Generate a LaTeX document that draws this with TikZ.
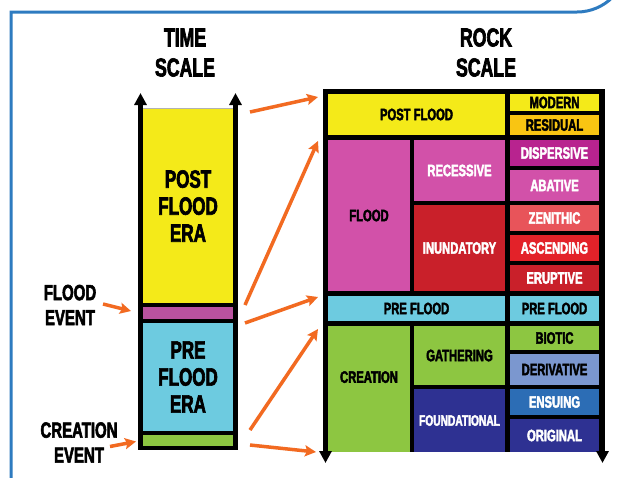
\documentclass[tikz,border=0pt]{standalone}
\usepackage{fontspec}
\usetikzlibrary{arrows.meta}
\newfontfamily\imp{Liberation Sans}[FakeStretch=0.68, BoldFeatures={FakeBold=2.5}]
\definecolor{cyel}{HTML}{F4EA19}
\definecolor{cres}{HTML}{F9C512}
\definecolor{cmag}{HTML}{D251A9}
\definecolor{cdis}{HTML}{B8238F}
\definecolor{czen}{HTML}{E8545A}
\definecolor{casc}{HTML}{E32229}
\definecolor{cred}{HTML}{C9202A}
\definecolor{ccya}{HTML}{6DCBE0}
\definecolor{cgrn}{HTML}{8DC641}
\definecolor{cder}{HTML}{7B97CF}
\definecolor{cens}{HTML}{2C6DB5}
\definecolor{cnav}{HTML}{2E3192}
\definecolor{ctmag}{HTML}{B9529F}
\definecolor{corg}{HTML}{F26A21}
\definecolor{cblu}{HTML}{2E7BC0}
\tikzset{
  cellbox/.style={inner sep=0pt, outer sep=0pt, align=center, font=\imp\bfseries\fontsize{16.5}{17}\selectfont},
  bigtxt/.style={align=center, inner sep=0pt, font=\imp\bfseries\fontsize{26}{30}\selectfont},
  eratxt/.style={align=center, inner sep=0pt, font=\imp\bfseries\fontsize{25}{27}\selectfont},
  evtxt/.style={align=center, inner sep=0pt, font=\imp\bfseries\fontsize{22}{25}\selectfont},
  axis/.style={line width=4.5pt, -{Triangle[length=12pt,width=12pt]}},
  orarrow/.style={corg, line width=3.5pt, -{Stealth[length=11pt,width=11pt,inset=2pt]}},
}
\newcommand\cell[8]{\node[cellbox, fill=#6, text=#7, minimum width={#4-#2}, minimum height={#5-#3}] (#1) at ({(#2+#4)/2},{(#3+#5)/2}) {#8};}
\begin{document}
\begin{tikzpicture}[x=1pt,y=-1pt]
\useasboundingbox (0,0) rectangle (617,477);
\fill[white] (0,0) rectangle (617,477);
% blue frame
\draw[cblu, line width=3pt] (11,480) -- (11,12) -- (577,12) arc[start angle=90, end angle=0, radius=50] -- (627,480);
% titles
\node[bigtxt] (t1) at (185,37.5) {TIME};
\node[bigtxt] (t2) at (185,67.5) {SCALE};
\node[bigtxt] (r1) at (486,37.5) {ROCK};
\node[bigtxt] (r2) at (486,67.5) {SCALE};
% time column
\fill[cyel] (143,108) rectangle (233,305);
\draw[gray!60, line width=0.5pt] (143,108) -- (233,108);
\fill[black] (138,302.5) rectangle (238,449.5);
\cell{tflood}{143}{307}{233}{319}{ctmag}{black}{}
\cell{tpre}{143}{323}{233}{431}{ccya}{black}{}
\cell{tcre}{143}{435}{233}{446}{cgrn}{black}{}
\node[eratxt] (tpost) at (188,206) {POST\\FLOOD\\ERA};
\node[eratxt] (tpretxt) at (188,377) {PRE\\FLOOD\\ERA};
\coordinate (tl0) at (140.5,449.5);
\coordinate (tl1) at (140.5,93);
\coordinate (tr0) at (235.5,449.5);
\coordinate (tr1) at (235.5,93);
\draw[axis] (tl0) -- (tl1);
\draw[axis] (tr0) -- (tr1);
% events
\node[evtxt] (fev) at (70,305) {FLOOD\\EVENT};
\node[evtxt] (cev) at (79,442.5) {CREATION\\EVENT};
\coordinate (fa0) at (103,304);
\coordinate (fa1) at (131,311);
\coordinate (ca0) at (110,446.5);
\coordinate (ca1) at (136,441.5);
\draw[orarrow] (fa0) -- (fa1);
\draw[orarrow] (ca0) -- (ca1);
% rock column
\fill[black] (323,89) rectangle (605,452);
\cell{rpost}{328}{94}{505}{135}{cyel}{black}{POST FLOOD}
\cell{rmod}{510}{94}{599}{111}{cyel}{black}{MODERN}
\cell{rres}{510}{115}{599}{135}{cres}{black}{RESIDUAL}
\cell{rflood}{328}{140}{410}{291}{cmag}{black}{FLOOD}
\cell{rrec}{414}{140}{505}{201}{cmag}{white}{RECESSIVE}
\cell{rinu}{414}{205}{505}{291}{cred}{white}{INUNDATORY}
\cell{rdis}{510}{140}{599}{166}{cdis}{white}{DISPERSIVE}
\cell{raba}{510}{170}{599}{201}{cmag}{white}{ABATIVE}
\cell{rzen}{510}{205}{599}{231}{czen}{white}{ZENITHIC}
\cell{rasc}{510}{235}{599}{261}{casc}{white}{ASCENDING}
\cell{rers}{510}{265}{599}{291}{cred}{white}{ERUPTIVE}
\cell{rpre}{328}{296}{505}{321}{ccya}{black}{PRE FLOOD}
\cell{rpre2}{510}{296}{599}{321}{ccya}{black}{PRE FLOOD}
\cell{rcre}{328}{326}{410}{452}{cgrn}{black}{\raisebox{24pt}{CREATION}}
\cell{rgat}{414}{326}{505}{385}{cgrn}{black}{GATHERING}
\cell{rfou}{414}{389}{505}{452}{cnav}{white}{\fontsize{15}{16}\selectfont FOUNDATIONAL}
\cell{rbio}{510}{326}{599}{350}{cgrn}{black}{BIOTIC}
\cell{rder}{510}{354}{599}{385}{cder}{black}{DERIVATIVE}
\cell{rens}{510}{389}{599}{415}{cens}{white}{ENSUING}
\cell{rori}{510}{419}{599}{452}{cnav}{white}{ORIGINAL}
\fill[white] (323,452) rectangle (605,462);
\coordinate (rl0) at (325.5,89);
\coordinate (rl1) at (325.5,463);
\coordinate (rr0) at (602.5,89);
\coordinate (rr1) at (602.5,463);
\draw[axis] (rl0) -- (rl1);
\draw[axis] (rr0) -- (rr1);
% connecting arrows
\coordinate (a1s) at (250,112);
\coordinate (a2s) at (245,305);
\coordinate (a3s) at (245,323);
\coordinate (a4s) at (250,430);
\coordinate (a5s) at (250,445);
\draw[orarrow] (a1s) -- (318,97);
\draw[orarrow] (a2s) -- (318,141);
\draw[orarrow] (a3s) -- (318,297);
\draw[orarrow] (a4s) -- (318,329);
\draw[orarrow] (a5s) -- (316,452);
\end{tikzpicture}
\end{document}
